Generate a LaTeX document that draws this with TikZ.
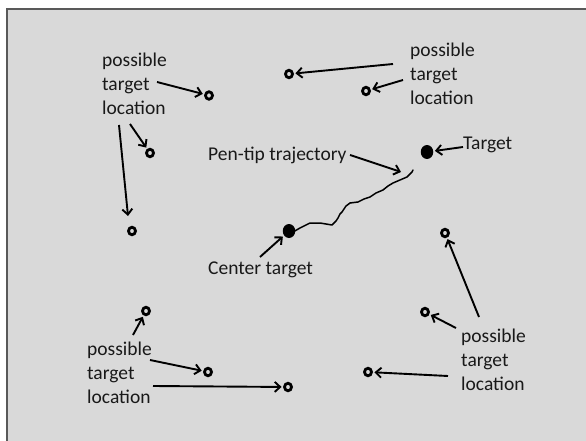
\documentclass[tikz,border=0pt]{standalone}
\usepackage{fontspec}
\setmainfont{Carlito}
\usetikzlibrary{arrows.meta,shapes.geometric}
\definecolor{bgfill}{HTML}{D9D9D9}
\definecolor{bordercol}{HTML}{595959}
\begin{document}
\begin{tikzpicture}[x=1pt,y=-1pt,
  opencirc/.style={ellipse,draw=black,line width=2.8pt,minimum width=7pt,minimum height=7.5pt,inner sep=0pt},
  fullcirc/.style={ellipse,fill=black,minimum width=12.5pt,minimum height=14pt,inner sep=0pt},
  lbl/.style={font=\fontsize{19.5}{24}\selectfont,align=left,inner sep=0pt,anchor=west,text=black!90},
  arr/.style={-{Straight Barb[length=5.5pt,width=10pt,line width=1.9pt]},line width=1.9pt,shorten >=1.5pt}]
\useasboundingbox (0,0) rectangle (586,441);
\fill[bgfill] (7,9) rectangle (586,441);
\draw[bordercol,line width=2.5pt] (7,441) -- (7,9) -- (586,9);
% circles
\node[opencirc] (c1) at (209,95.5) {};
\node[opencirc] (c2) at (150,153) {};
\node[opencirc] (c3) at (132,231) {};
\node[opencirc] (c4) at (289,74) {};
\node[opencirc] (c5) at (366,91) {};
\node[opencirc] (c6) at (445,233) {};
\node[opencirc] (c7) at (425,312) {};
\node[opencirc] (c8) at (368,372) {};
\node[opencirc] (c9) at (288,387) {};
\node[opencirc] (c10) at (208,372) {};
\node[opencirc] (c11) at (146,311) {};
\node[fullcirc] (tgt) at (427,152) {};
\node[fullcirc] (ctr) at (289,231) {};
% labels
\node[lbl] (ltl) at (102,84) {possible\\target\\location};
\node[lbl] (ltr) at (410,74) {possible\\target\\location};
\node[lbl] (lbl) at (87,373) {possible\\target\\location};
\node[lbl] (lbr) at (461,360) {possible\\target\\location};
\node[lbl] (lpen) at (208,155) {Pen-tip trajectory};
\node[lbl] (ltgt) at (463,145) {Target};
\node[lbl] (lctr) at (208,270) {Center target};
% arrow start coordinates
\coordinate (a1) at (157,82);
\coordinate (a2) at (130,124);
\coordinate (a3) at (119,125);
\coordinate (a4) at (393,64);
\coordinate (a5) at (403,80);
\coordinate (a6) at (463,147);
\coordinate (a7) at (350,155);
\coordinate (a7e) at (401,172);
\coordinate (a8) at (260,257);
\coordinate (a9) at (133,335);
\coordinate (a10) at (150,360);
\coordinate (a11) at (153,386);
\coordinate (a12) at (479,317);
\coordinate (a13) at (456,328);
\coordinate (a14) at (448,376);
\coordinate (a3e) at (128,216);
% arrows
\draw[arr] (a1) -- (c1);
\draw[arr] (a2) -- (c2);
\draw[arr,shorten >=0pt] (a3) -- (a3e);
\draw[arr] (a4) -- (c4);
\draw[arr] (a5) -- (c5);
\draw[arr] (a6) -- (tgt);
\draw[arr,shorten >=0pt] (a7) -- (a7e);
\draw[arr] (a8) -- (ctr);
\draw[arr] (a9) -- (c11);
\draw[arr] (a10) -- (c10);
\draw[arr] (a11) -- (c9);
\draw[arr] (a12) -- (c6);
\draw[arr] (a13) -- (c7);
\draw[arr] (a14) -- (c8);
% trajectory
\draw[line width=1.5pt,line join=round,line cap=round] (ctr.center) -- (293,232) -- (300,228) -- (310,223) -- (320,223) -- (332,225) -- (336,221) -- (338,218) -- (340,214) -- (342,212) -- (346,206) -- (350,203) -- (358,202) -- (364,199) -- (370,197) -- (376,193) -- (383,190) -- (388,186) -- (393,183) -- (400,180) -- (407,177) -- (412,172) -- (413,170);
\end{tikzpicture}
\end{document}
